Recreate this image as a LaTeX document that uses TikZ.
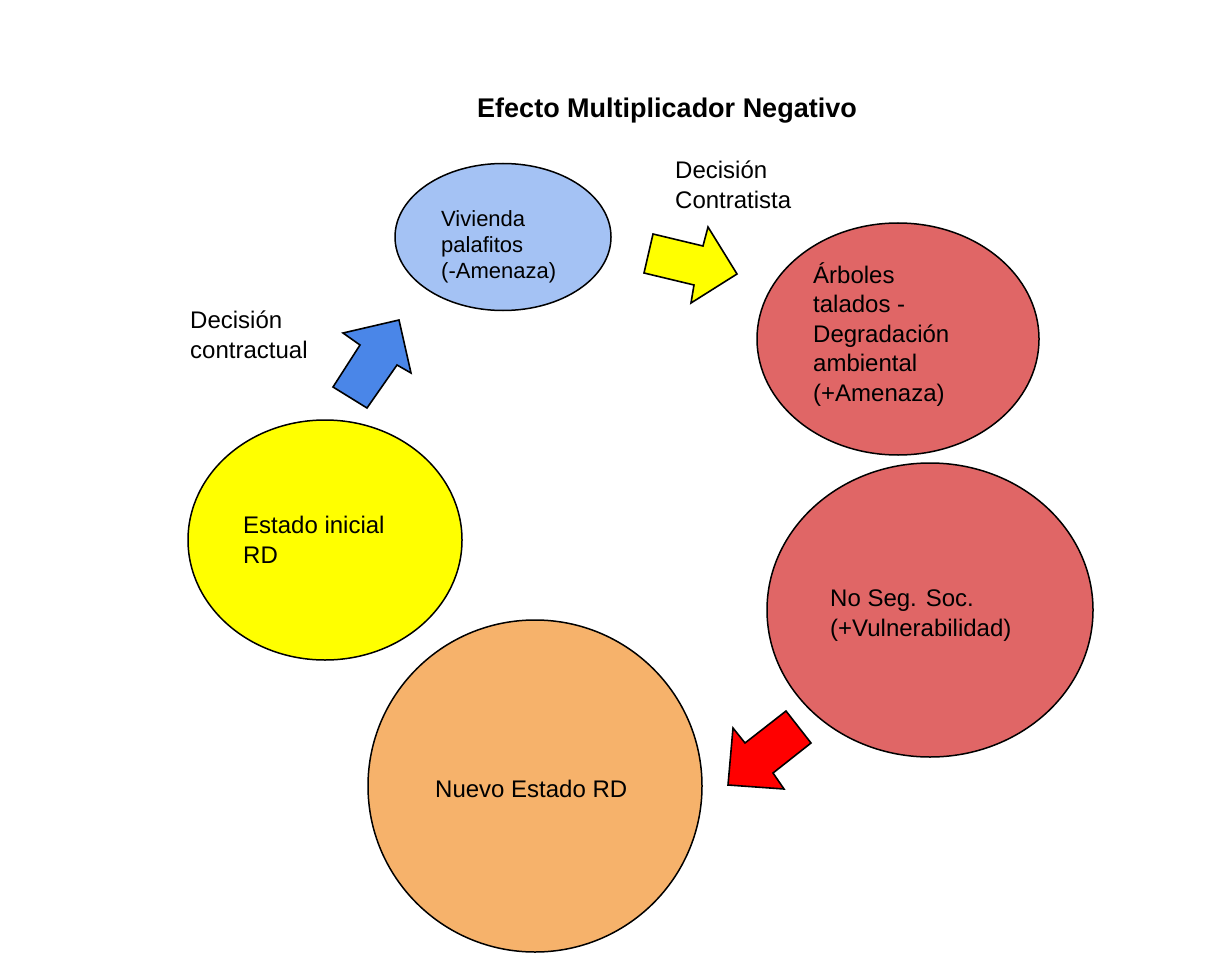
\documentclass[tikz,border=0pt]{standalone}
\usepackage{fontspec}
\setmainfont{Liberation Sans}
\usetikzlibrary{shapes.geometric}

\definecolor{blueball}{HTML}{A4C2F4}
\definecolor{redball}{HTML}{E06666}
\definecolor{yellowball}{HTML}{FFFF00}
\definecolor{orangeball}{HTML}{F6B26B}
\definecolor{bluearrow}{HTML}{4A86E8}
\definecolor{redarrow}{HTML}{FF0000}

% multi-line texts are placed by the baseline of their last line
\tikzset{
  ball/.style={ellipse, draw=black, line width=1.5pt, inner sep=0pt},
  bigarrow/.style={draw=black, line width=1.6pt, line join=miter},
  txt/.style={anchor=base west, inner sep=0pt, align=left,
              font=\fontsize{24}{30}\selectfont},
  smalltxt/.style={anchor=base west, inner sep=0pt, align=left,
              font=\fontsize{22}{26}\selectfont},
}

\begin{document}
\begin{tikzpicture}[x=1pt,y=-1pt]
  \useasboundingbox (0,0) rectangle (1206,965);
  \fill[white] (0,0) rectangle (1206,965);

  % title
  \node[anchor=base, inner sep=0pt, font=\fontsize{27}{30}\selectfont\bfseries]
    (title) at (667,118) {Efecto Multiplicador Negativo};

  % states
  \node[ball, fill=blueball, minimum width=216pt, minimum height=147pt]
    (vivienda) at (503,237) {};
  \node[ball, fill=redball, minimum width=282pt, minimum height=232pt]
    (arboles) at (898,339) {};
  \node[ball, fill=yellowball, minimum width=274pt, minimum height=240pt]
    (inicial) at (325,540) {};
  \node[ball, fill=redball, minimum width=326pt, minimum height=294pt]
    (noseg) at (930,610) {};
  \node[ball, fill=orangeball, minimum width=334pt, minimum height=332pt]
    (nuevo) at (535,786) {};

  % texts inside the states
  \node[smalltxt] (tviv) at (441,279) {Vivienda\\palafitos\\(-Amenaza)};
  \node[txt, font=\fontsize{24}{29.5}\selectfont] (tarb) at (813,401)
    {Árboles\\talados -\\Degradación\\ambiental\\(+Amenaza)};
  \node[txt] (tini) at (243,563) {Estado inicial\\RD};
  \node[txt] (tnos) at (830,636) {No Seg. Soc.\\(+Vulnerabilidad)};
  \node[txt] (tnue) at (435,797) {Nuevo Estado RD};

  % decision labels
  \node[txt] (dcontr) at (190,358) {Decisión\\contractual};
  \node[txt] (dcontra) at (675,209) {Decisión\\Contratista};

  % block arrows between states
  \draw[bigarrow, fill=bluearrow]
    (399,320) -- (411,373) -- (397,365) -- (367,408) -- (333,387)
    -- (360,345) -- (343,333) -- cycle;
  \draw[bigarrow, fill=yellowball]
    (653,234) -- (703,246) -- (708,227) -- (737,274) -- (691,303)
    -- (694,285) -- (644,273) -- cycle;
  \draw[bigarrow, fill=redarrow]
    (786,711) -- (811,743) -- (773,773) -- (784,789) -- (728,785)
    -- (733,728) -- (745,743) -- cycle;
\end{tikzpicture}
\end{document}
